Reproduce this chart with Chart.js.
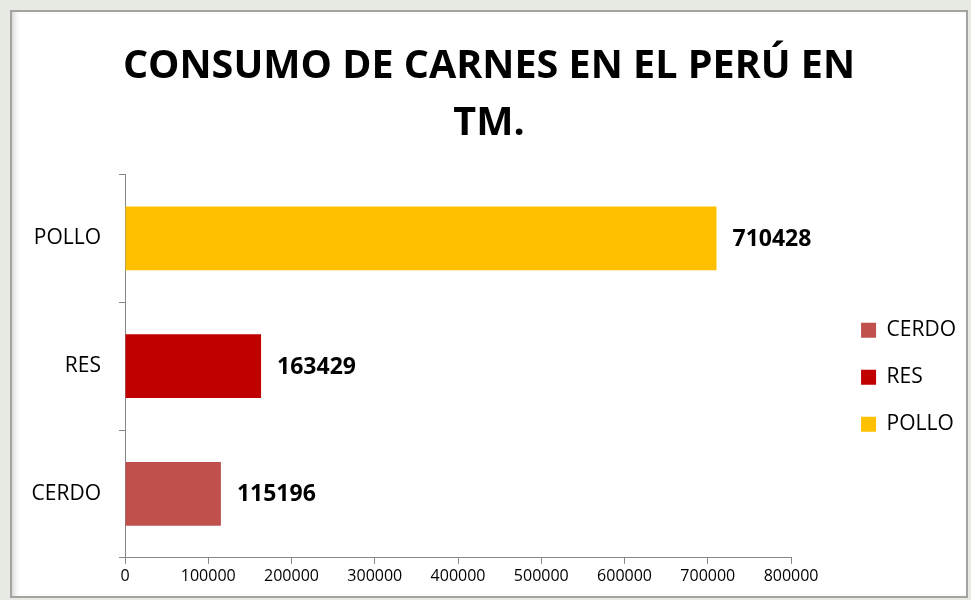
<!DOCTYPE html>
<html>
<head>
<meta charset="utf-8">
<script src="https://cdn.jsdelivr.net/npm/chart.js@4"></script>
<style>
    html, body { margin: 0; padding: 0; }
    body { width: 971px; height: 600px; background: #e6eae3; position: relative; overflow: hidden; }
    #box {
        position: absolute; left: 10px; top: 10px; width: 958px; height: 588px;
        box-sizing: border-box; border: 2px solid #a3a3a3; background: #fff;
        box-shadow: inset 6px 0 6px -4px #cfcfcf;
    }
    canvas { display: block; }
</style>
</head>
<body>
<div id="box"><canvas id="meatChart" width="954" height="584"></canvas></div>
<script>
const categories = ['CERDO', 'RES', 'POLLO'];
const consumo = [115196, 163429, 710428];
const barColors = ['#C0504D', '#C00000', '#FFC000'];
const titleLines = ['CONSUMO DE CARNES EN EL PERÚ EN', 'TM.'];
const xMax = 800000;
const xStep = 100000;

const FONT = "'Open Sans', sans-serif";

// values written at the end of every bar
const valueLabels = {
    id: 'valueLabels',
    afterDatasetsDraw(chart) {
        const ctx = chart.ctx;
        const meta = chart.getDatasetMeta(0);
        ctx.save();
        ctx.font = 'bold 23px ' + FONT;
        ctx.fillStyle = '#000';
        ctx.textBaseline = 'middle';
        meta.data.forEach(function (bar, i) {
            ctx.fillText(String(chart.data.datasets[0].data[i]), bar.x + 16, bar.y + 1);
        });
        ctx.restore();
    }
};

document.addEventListener('DOMContentLoaded', function () {
    const ctx = document.getElementById('meatChart').getContext('2d');

    new Chart(ctx, {
        type: 'bar',
        data: {
            labels: categories,
            datasets: [{
                label: 'Consumo',
                data: consumo,
                backgroundColor: barColors,
                barPercentage: 0.5,
                categoryPercentage: 1
            }]
        },
        options: {
            indexAxis: 'y',
            responsive: false,
            animation: false,
            layout: { padding: { left: 0, right: 0, top: 0, bottom: 7 } },
            scales: {
                x: {
                    min: 0,
                    max: xMax,
                    grid: { drawOnChartArea: false, color: '#868686', tickLength: 6 },
                    border: { color: '#868686', width: 1 },
                    ticks: {
                        stepSize: xStep,
                        color: '#000',
                        font: { family: FONT, size: 16 },
                        padding: 3,
                        maxRotation: 0,
                        callback: function (value) {
                            return String(value);
                        }
                    }
                },
                y: {
                    reverse: true,
                    grid: { drawOnChartArea: false, offset: true, color: '#868686', tickLength: 6 },
                    border: { color: '#868686', width: 1 },
                    ticks: { color: '#000', font: { family: FONT, size: 21 }, padding: 18 },
                    afterFit: function (scale) {
                        scale.width = 113;
                    }
                },
                // empty strip between the plot and the legend
                gap: {
                    type: 'linear',
                    axis: 'y',
                    position: 'right',
                    grid: { display: false },
                    border: { display: false },
                    ticks: { display: false },
                    afterFit: function (scale) {
                        scale.width = 44;
                    }
                }
            },
            plugins: {
                title: {
                    display: true,
                    text: titleLines,
                    color: '#000',
                    font: { family: FONT, size: 39.5, weight: 'bold', lineHeight: 1.45 },
                    padding: { top: 26, bottom: 22 }
                },
                legend: {
                    position: 'right',
                    fullSize: false,
                    title: { display: true, text: ' ', font: { size: 10 }, padding: 5 },
                    labels: {
                        color: '#000',
                        font: { family: FONT, size: 21 },
                        boxWidth: 15,
                        boxHeight: 15,
                        padding: 26,
                        generateLabels: function () {
                            return categories.map(function (c, i) {
                                return {
                                    text: c,
                                    fillStyle: barColors[i],
                                    strokeStyle: barColors[i],
                                    fontColor: '#000',
                                    lineWidth: 0,
                                    index: i
                                };
                            });
                        }
                    }
                },
                tooltip: { enabled: false }
            }
        },
        plugins: [valueLabels]
    });
});
</script>
</body>
</html>
